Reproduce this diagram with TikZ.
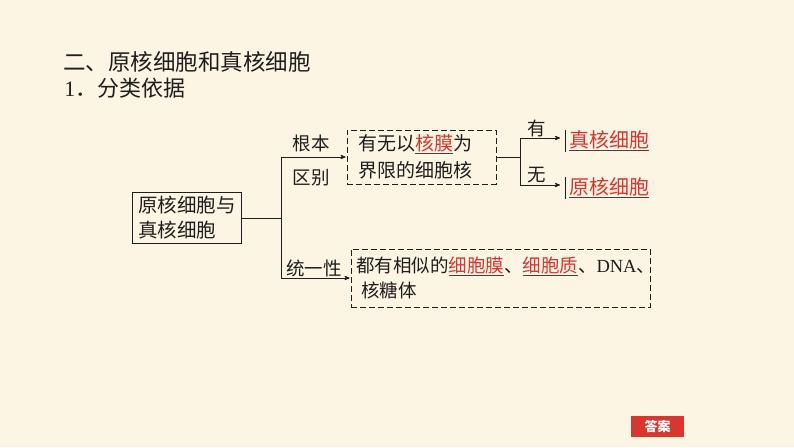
\documentclass[tikz,border=0pt]{standalone}
\usepackage{fontspec}
\setmainfont{Noto Sans CJK SC}
\newfontfamily\latinserif{Liberation Serif}
\usepackage{tikz}
\usetikzlibrary{arrows}
\definecolor{paper}{HTML}{FCF5E4}
\definecolor{ink}{HTML}{1E1E1E}
\definecolor{ansred}{HTML}{D8362E}
\definecolor{ulink}{HTML}{5A3A36}
\newcommand{\fsz}[2]{\fontsize{#1}{#2}\selectfont}
\newcommand{\ans}[1]{\textcolor{ulink}{\underline{\textcolor{ansred}{#1}}}}

\begin{document}
\begin{tikzpicture}[x=1pt,y=-1pt,>=stealth',line width=0.8pt,draw=ink,text=ink]
		\tikzstyle{every node}=[inner sep=0pt]
		\tikzstyle{solidbox}=[draw,align=left,inner xsep=6pt,inner ysep=4pt,font=\fsz{19.5}{25}]
		\tikzstyle{dashbox}=[draw,dashed,dash pattern=on 6pt off 3pt,align=left]
		\tikzstyle{tag}=[font=\fsz{18.5}{22},align=center]
		\tikzstyle{answer}=[font=\fsz{20}{22},anchor=west,inner xsep=4pt]

		\fill[paper] (0,0) rectangle (794,447);
		\useasboundingbox (0,0) rectangle (794,447);

		% heading
		\node[anchor=west,font=\fsz{22.5}{27}] (title) at (63,62) {二、原核细胞和真核细胞};
		\node[anchor=west,font=\fsz{22}{27}] (sub) at (64,88) {{\latinserif 1}．分类依据};

		% boxes
		\node[solidbox,text width=97pt,minimum height=49pt] (cell) at (186.5,218) {原核细胞与\\真核细胞};
		\node[dashbox,text width=127pt,inner xsep=11pt,minimum height=54pt,
			font=\fsz{19}{27}] (nucleus) at (421.5,157) {有无以\ans{核膜}为\\界限的细胞核};
		\node[dashbox,text width=289pt,inner xsep=5pt,minimum height=58pt,
			font=\fsz{18.5}{25}] (common) at (500.5,278) {都有相似的\ans{细胞膜}、\ans{细胞质}、{\latinserif DNA}、\\\hspace{5pt}核糖体};
		\node[answer] (euk) at (565,141) {\ans{真核细胞}};
		\node[answer] (pro) at (565,188) {\ans{原核细胞}};

		% labels
		\node[tag] (diff) at (311,161) {根本\\[12pt]区别};
		\node[tag] (unity) at (314,268) {统一性};
		\node[tag] (yes) at (537,128) {有};
		\node[tag] (no) at (537,175) {无};

		\coordinate (j1) at (281,218);
		\coordinate (j2) at (520,157);

		\path
			(cell.east) edge (j1)
			(nucleus.east) edge (j2)
			(euk.north west) edge (euk.south west)
			(pro.north west) edge (pro.south west);
		\draw[->,shorten >=1pt] (j1) |- (nucleus.west);
		\draw[->,shorten >=1pt] (j1) |- (common.west);
		\draw[->,shorten >=5pt] (j2) |- ([yshift=3pt]euk.west);
		\draw[->,shorten >=5pt] (j2) |- ([yshift=3pt]pro.west);

		% answer button
		\node[fill=ansred,text=white,font=\fsz{13}{15}\bfseries,minimum width=53pt,minimum height=21pt] (key) at (657.5,426.5) {答案};
	\end{tikzpicture}
\end{document}
